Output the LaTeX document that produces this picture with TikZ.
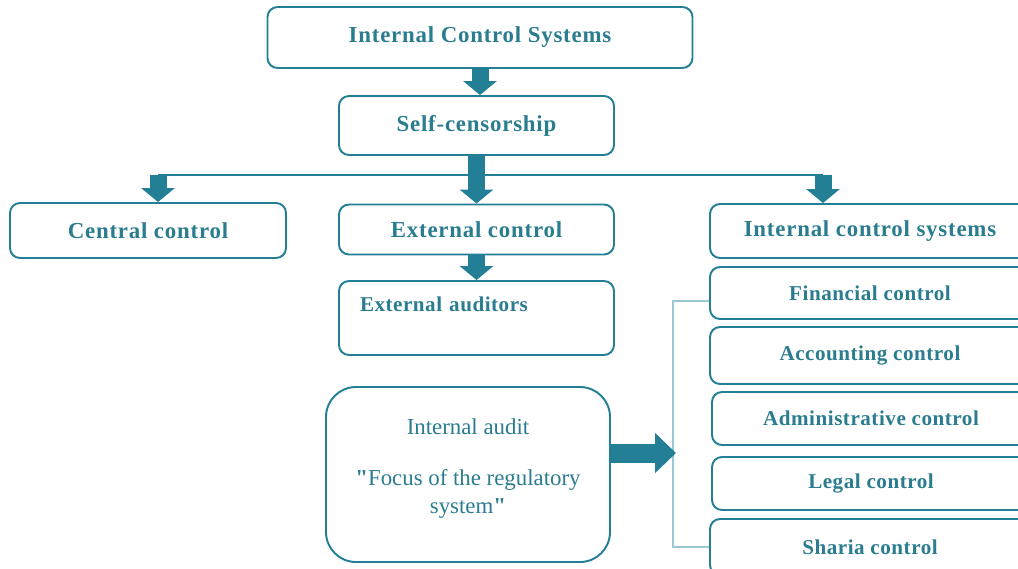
\documentclass[tikz,border=0pt]{standalone}
\usepackage{fontspec}
\setmainfont{Liberation Serif}
\newfontfamily\qfont{Liberation Serif}[Ligatures=TeXOff]
\usepackage{xcolor}
\usepackage{tikz}
\usetikzlibrary{arrows.meta}

\definecolor{teal1}{HTML}{237F96}
\definecolor{tealtxt}{HTML}{2A7C8F}
\definecolor{teallight}{HTML}{9CC8D3}

\tikzset{
  box/.style={draw=teal1, line width=1.1pt, rounded corners=0.2cm, fill=white,
    text=tealtxt, font=\fontsize{13}{16}\selectfont\bfseries\addfontfeatures{LetterSpace=3.5}, align=center},
  item/.style={box, font=\fontsize{12}{16}\selectfont\bfseries\addfontfeatures{LetterSpace=2.5}},
  fat/.style={teal1, line width=0.34cm, -{Triangle[width=0.66cm, length=0.28cm]}},
  bar/.style={teal1, line width=1.2pt},
  brace/.style={teallight, line width=0.7pt}
}

\begin{document}
\begin{tikzpicture}
\clip (0,0) rectangle (20.36,-11.36);

% top of the tree
\node[box, minimum width=8.5cm, minimum height=1.22cm] (ics) at (9.6,-0.75) {Internal Control Systems};
\node[box, minimum width=5.5cm, minimum height=1.18cm] (self) at (9.53,-2.51) {Self-censorship};

\draw[fat] (ics.south) -- (ics.south |- self.north);

% second row
\node[box, minimum width=5.52cm, minimum height=1.1cm] (cen) at (2.96,-4.61) {Central control};
\node[box, minimum width=5.5cm, minimum height=1.0cm] (ext) at (9.53,-4.59) {External control};
\node[box, minimum width=6.4cm, minimum height=1.08cm] (sys) at (17.4,-4.62) {Internal control systems};

\coordinate (jL) at (3.16,-3.5);
\coordinate (jR) at (16.46,-3.5);
\draw[bar] (jL) -- (jR);
\draw[fat] (jL) -- (jL |- cen.north);
\draw[fat] (jR) -- (jR |- sys.north);
\draw[fat] (self.south) -- (ext.north);

% external branch
\node[item, minimum width=5.5cm, minimum height=1.48cm, inner xsep=0.42cm, text width=4.66cm,
  align=left, text depth=0.56cm] (aud) at (9.53,-6.36) {External auditors};
\draw[fat] (ext.south) -- (aud.north);

% internal audit
\node[box, font=\fontsize{13}{16}\selectfont, rounded corners=0.6cm, minimum width=5.68cm,
  minimum height=3.5cm] (ia) at (9.36,-9.49)
  {Internal audit\\[0.45cm] {\qfont\bfseries"}Focus of the regulatory\\ system{\qfont\bfseries"}\\[-0.22cm]};

% internal control systems list
\node[item, minimum width=6.4cm, minimum height=1.04cm] (fin) at (17.4,-5.86) {Financial control};
\node[item, minimum width=6.4cm, minimum height=1.14cm] (acc) at (17.4,-7.11) {Accounting control};
\node[item, minimum width=6.36cm, minimum height=1.06cm] (adm) at (17.42,-8.37) {Administrative control};
\node[item, minimum width=6.36cm, minimum height=1.06cm] (leg) at (17.42,-9.67) {Legal control};
\node[item, minimum width=6.4cm, minimum height=1.12cm] (sha) at (17.4,-10.94) {Sharia control};

\draw[brace] ([yshift=-0.16cm]fin.west) -- ++(-0.72,0) |- (sha.west);
\coordinate (brk) at (13.52,-9.06);
\draw[teal1, line width=0.38cm, -{Triangle[width=0.78cm, length=0.42cm]}] (ia.east |- brk) -- (brk);
\end{tikzpicture}
\end{document}
